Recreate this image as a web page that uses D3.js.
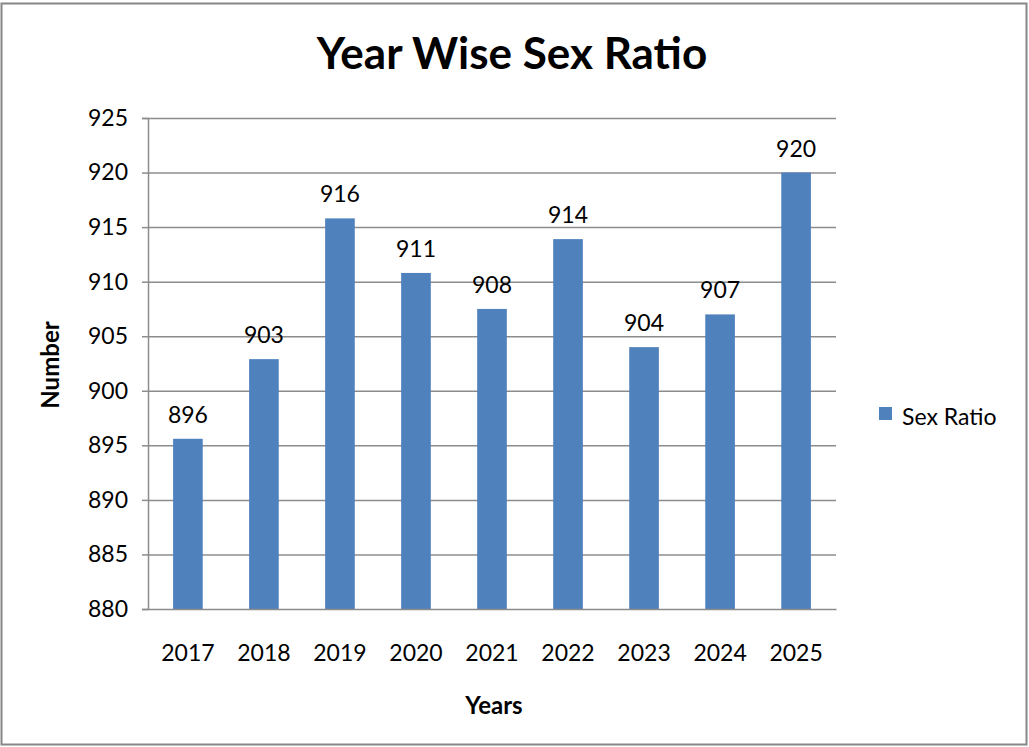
<!DOCTYPE html>
<html><head><meta charset="utf-8">
<script src="https://cdn.jsdelivr.net/npm/d3@7"></script>
<style>body{margin:0;background:#fff;} text{font-family:Lato, "Open Sans", sans-serif;}</style>
</head><body>
<svg id="c" width="1029" height="747"></svg>
<script>
const years = ["2017","2018","2019","2020","2021","2022","2023","2024","2025"];
const sexRatio = [895.6, 902.9, 915.8, 910.8, 907.5, 913.9, 904.0, 907.0, 920.0];
const yTicks = [880,885,890,895,900,905,910,915,920,925];
const seriesName = "Sex Ratio";
const title = "Year Wise Sex Ratio";

const svg = d3.select("#c");
svg.append("rect").attr("x",1.5).attr("y",3.5).attr("width",1025).attr("height",741)
  .attr("fill","#fff").attr("stroke","#868686").attr("stroke-width",2);

const L=148, R=836, T=118, B=609;
const x = d3.scaleBand().domain(years).range([L,R]).paddingInner(0.61).paddingOuter(0.33);
const y = d3.scaleLinear().domain([880,925]).range([B,T]);

// gridlines
svg.append("g").selectAll("line").data(yTicks.slice(1)).join("line")
  .attr("x1",L).attr("x2",R).attr("y1",d=>y(d)+0.5).attr("y2",d=>y(d)+0.5)
  .attr("stroke","#8c8c8c").attr("stroke-width",1.5);

// bars
svg.append("g").selectAll("rect").data(sexRatio).join("rect")
  .attr("x",(d,i)=>x(years[i])).attr("width",x.bandwidth())
  .attr("y",d=>y(d)).attr("height",d=>B-y(d)).attr("fill","#4f81bd");

// y axis
const ya = svg.append("g").attr("transform",`translate(${L},0)`)
  .call(d3.axisLeft(y).tickValues(yTicks).tickSize(6).tickPadding(14));
ya.select(".domain").attr("stroke","#8c8c8c").attr("stroke-width",1.5);
ya.selectAll(".tick line").attr("stroke","#8c8c8c").attr("stroke-width",1.5);
ya.selectAll("text").attr("font-size",23).attr("fill","#000").style("font-family","Lato, 'Open Sans', sans-serif");

// x axis
const xa = svg.append("g").attr("transform",`translate(0,${B})`)
  .call(d3.axisBottom(x).tickSize(0).tickPadding(36));
xa.select(".domain").attr("stroke","#8c8c8c").attr("stroke-width",1.5);
xa.selectAll("text").attr("font-size",23).attr("fill","#000").style("font-family","Lato, 'Open Sans', sans-serif");

// data labels
svg.append("g").selectAll("text").data(sexRatio).join("text")
  .attr("x",(d,i)=>x(years[i])+x.bandwidth()/2).attr("y",d=>y(d)-16)
  .attr("text-anchor","middle").attr("font-size",23).attr("fill","#000")
  .text(d=>d3.format(".0f")(d));

// title
svg.append("text").attr("x",512).attr("y",69).attr("text-anchor","middle")
  .attr("font-size",44).attr("font-weight","bold").text(title);

// axis titles
svg.append("text").attr("x",494).attr("y",714).attr("text-anchor","middle")
  .attr("font-size",24).attr("font-weight","bold").text("Years");
svg.append("text").attr("transform","translate(59,365) rotate(-90)").attr("text-anchor","middle")
  .attr("font-size",24).attr("font-weight","bold").text("Number");

// legend
svg.append("rect").attr("x",879).attr("y",407).attr("width",13).attr("height",13).attr("fill","#4f81bd");
svg.append("text").attr("x",902).attr("y",425).attr("font-size",23).text(seriesName);
</script>
</body></html>
